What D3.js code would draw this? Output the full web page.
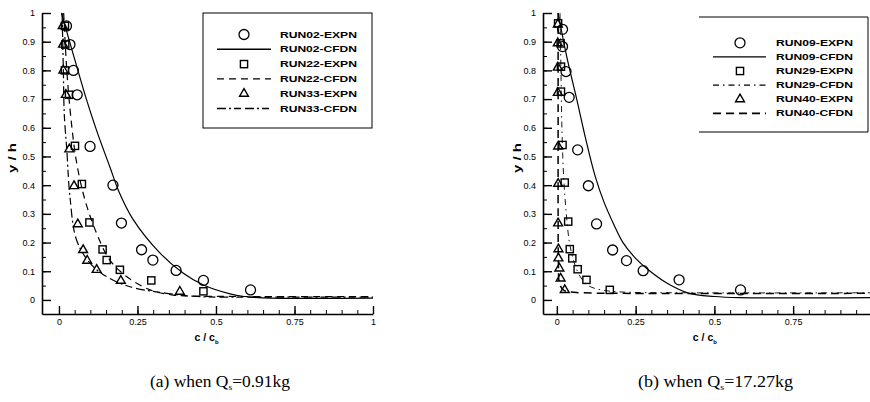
<!DOCTYPE html>
<html>
<head>
<meta charset="utf-8">
<script src="https://cdn.jsdelivr.net/npm/d3@7"></script>
<style>
  body { margin: 0; background: #fff; }
  svg { display: block; }
  .tick text { font-family: "Liberation Sans", Arial, sans-serif; font-size: 9px; fill: #000; }
  .lgd { font-family: "Liberation Sans", Arial, sans-serif; font-size: 8.5px; font-weight: bold; }
</style>
</head>
<body>
<script>
// panel (a) Qs = 0.91kg
var run02ExpX = [0.024, 0.035, 0.046, 0.058, 0.099, 0.172, 0.199, 0.263, 0.299, 0.373, 0.46, 0.61];
var run02ExpY = [0.955, 0.89, 0.80, 0.715, 0.535, 0.40, 0.268, 0.175, 0.139, 0.103, 0.068, 0.035];
var run22ExpX = [0.019, 0.02, 0.019, 0.032, 0.051, 0.073, 0.097, 0.139, 0.152, 0.194, 0.294, 0.46];
var run22ExpY = [0.955, 0.89, 0.80, 0.715, 0.537, 0.404, 0.27, 0.176, 0.139, 0.105, 0.068, 0.03];
var run33ExpX = [0.012, 0.013, 0.014, 0.022, 0.033, 0.048, 0.06, 0.077, 0.09, 0.12, 0.197, 0.385];
var run33ExpY = [0.955, 0.89, 0.80, 0.715, 0.525, 0.397, 0.264, 0.174, 0.137, 0.105, 0.067, 0.029];
var run02CfdX = [0.008, 0.04, 0.088, 0.12, 0.162, 0.19, 0.237, 0.322, 0.396, 0.46, 0.545, 0.59, 0.65, 1.0];
var run02CfdY = [1.0, 0.877, 0.697, 0.59, 0.464, 0.38, 0.279, 0.163, 0.093, 0.052, 0.021, 0.012, 0.007, 0.006];
var run22CfdX = [0.015, 0.025, 0.037, 0.056, 0.083, 0.12, 0.162, 0.216, 0.29, 0.364, 0.45, 0.6, 1.0];
var run22CfdY = [1.0, 0.8, 0.645, 0.48, 0.348, 0.232, 0.139, 0.081, 0.035, 0.017, 0.013, 0.012, 0.012];
var run33CfdX = [0.01, 0.014, 0.017, 0.025, 0.035, 0.056, 0.099, 0.152, 0.226, 0.343, 0.44, 0.6, 1.0];
var run33CfdY = [1.0, 0.8, 0.645, 0.523, 0.36, 0.209, 0.128, 0.081, 0.046, 0.023, 0.012, 0.01, 0.01];

// panel (b) Qs = 17.27kg
var run09ExpX = [0.018, 0.018, 0.029, 0.039, 0.066, 0.1, 0.126, 0.177, 0.221, 0.274, 0.388, 0.583];
var run09ExpY = [0.943, 0.883, 0.796, 0.706, 0.523, 0.398, 0.265, 0.174, 0.137, 0.102, 0.07, 0.035];
var run29ExpX = [0.004, 0.012, 0.013, 0.013, 0.018, 0.025, 0.036, 0.041, 0.049, 0.066, 0.094, 0.168];
var run29ExpY = [0.964, 0.894, 0.813, 0.726, 0.54, 0.409, 0.273, 0.177, 0.145, 0.107, 0.07, 0.035];
var run40ExpX = [0.003, 0.003, 0.003, 0.003, 0.004, 0.004, 0.004, 0.005, 0.005, 0.008, 0.012, 0.025];
var run40ExpY = [0.96, 0.895, 0.81, 0.722, 0.535, 0.405, 0.267, 0.177, 0.145, 0.11, 0.075, 0.035];
var run09CfdX = [0.004, 0.031, 0.063, 0.094, 0.122, 0.15, 0.18, 0.21, 0.25, 0.29, 0.35, 0.42, 0.5, 0.58, 1.0];
var run09CfdY = [1.0, 0.85, 0.70, 0.55, 0.43, 0.34, 0.265, 0.2, 0.145, 0.105, 0.058, 0.023, 0.012, 0.008, 0.008];
var run29CfdX = [0.01, 0.013, 0.016, 0.022, 0.03, 0.04, 0.055, 0.075, 0.1, 0.14, 0.2, 0.4, 1.0];
var run29CfdY = [1.0, 0.8, 0.6, 0.42, 0.3, 0.2, 0.13, 0.08, 0.05, 0.035, 0.028, 0.025, 0.025];
var run40CfdX = [0.004, 0.004, 0.004, 0.005, 0.008, 0.02, 0.04, 0.08, 0.2, 1.0];
var run40CfdY = [1.0, 0.6, 0.3, 0.12, 0.06, 0.035, 0.028, 0.025, 0.023, 0.023];

var yTicks = [0, 0.1, 0.2, 0.3, 0.4, 0.5, 0.6, 0.7, 0.8, 0.9, 1];
var yTickLabels = ["0", "0.1", "0.2", "0.3", "0.4", "0.5", "0.6", "0.7", "0.8", "0.9", "1"];
var xTicks = [0, 0.25, 0.5, 0.75, 1];
var xTickLabels = ["0", "0.25", "0.5", "0.75", "1"];

function zip(xs, ys) {
  return xs.map(function(d, i) { return {x: d, y: ys[i]}; });
}

var svg = d3.select("body").append("svg")
  .attr("width", 870).attr("height", 402);

var panels = [
  {
    left: 42, right: 373, xMin: -0.054, xMax: 1, id: "a",
    caption: ["(a) when Q", "s", "=0.91kg"], capX: 150, capW: 140,
    yLabelX: 12,
    legend: {x0: 203, x1: 372, y0: 13, y1: 128, symX: 244, lineX0: 217, lineX1: 271, textX: 280, rowY: 34.5, step: 14.8, full: true},
    series: [
      {name: "RUN02-EXPN", type: "circle", pts: zip(run02ExpX, run02ExpY)},
      {name: "RUN02-CFDN", type: "line", dash: null, w: 1.2, pts: zip(run02CfdX, run02CfdY)},
      {name: "RUN22-EXPN", type: "square", pts: zip(run22ExpX, run22ExpY)},
      {name: "RUN22-CFDN", type: "line", dash: "7,5", w: 1.2, pts: zip(run22CfdX, run22CfdY)},
      {name: "RUN33-EXPN", type: "triangle", pts: zip(run33ExpX, run33ExpY)},
      {name: "RUN33-CFDN", type: "line", dash: "9,3,2,3,7,4", w: 1.2, pts: zip(run33CfdX, run33CfdY)}
    ]
  },
  {
    left: 543, right: 870, xMin: -0.044, xMax: 0.994, id: "b",
    caption: ["(b) when Q", "s", "=17.27kg"], capX: 638, capW: 155,
    yLabelX: 517,
    legend: {x0: 699, x1: 868, y0: 17, y1: 132, symX: 740, lineX0: 713, lineX1: 766, textX: 776, rowY: 42.8, step: 14.1, full: false},
    series: [
      {name: "RUN09-EXPN", type: "circle", pts: zip(run09ExpX, run09ExpY)},
      {name: "RUN09-CFDN", type: "line", dash: null, w: 1.2, pts: zip(run09CfdX, run09CfdY)},
      {name: "RUN29-EXPN", type: "square", pts: zip(run29ExpX, run29ExpY)},
      {name: "RUN29-CFDN", type: "line", dash: "6,4,1.5,4", w: 0.9, pts: zip(run29CfdX, run29CfdY)},
      {name: "RUN40-EXPN", type: "triangle", pts: zip(run40ExpX, run40ExpY)},
      {name: "RUN40-CFDN", type: "line", dash: "8,5", w: 1.5, pts: zip(run40CfdX, run40CfdY)}
    ]
  }
];

var plotTop = 13, plotBottom = 314;

panels.forEach(function(p) {
  var x = d3.scaleLinear().domain([p.xMin, p.xMax]).range([p.left, p.right]);
  var y = d3.scaleLinear().domain([-0.049, 1]).range([plotBottom, plotTop]);

  var g = svg.append("g");

  g.append("clipPath").attr("id", "clip" + p.id)
    .append("rect").attr("x", p.left).attr("y", plotTop - 2)
    .attr("width", p.right - p.left).attr("height", plotBottom - plotTop + 2);

  // minor ticks every 0.05
  var yMinor = d3.range(0, 1.001, 0.05).map(function(d) { return +d.toFixed(2); });
  var xMinor = d3.range(0, p.xMax + 0.001, 0.05).map(function(d) { return +d.toFixed(2); });

  g.append("g").attr("transform", "translate(" + p.left + ",0)")
    .call(d3.axisLeft(y).tickValues(yMinor).tickSize(-4).tickSizeOuter(0).tickFormat(""))
    .call(function(s) { s.select(".domain").remove(); s.selectAll("line").attr("stroke-width", 1); });
  g.append("g").attr("transform", "translate(0," + plotBottom + ")")
    .call(d3.axisBottom(x).tickValues(xMinor).tickSize(-4).tickSizeOuter(0).tickFormat(""))
    .call(function(s) { s.select(".domain").remove(); s.selectAll("line").attr("stroke-width", 1); });

  var yAxis = d3.axisLeft(y).tickValues(yTicks).tickSize(-9).tickSizeOuter(0).tickPadding(7)
    .tickFormat(function(d, i) { return yTickLabels[i]; });
  var xVals = xTicks.filter(function(d) { return d <= p.xMax; });
  var xAxis = d3.axisBottom(x).tickValues(xVals).tickSize(-8).tickSizeOuter(0).tickPadding(5)
    .tickFormat(function(d) { return xTickLabels[xTicks.indexOf(d)]; });

  g.append("g").attr("transform", "translate(" + p.left + ",0)").call(yAxis)
    .call(function(s) { s.select(".domain").attr("stroke-width", 1.6); s.selectAll("line").attr("stroke-width", 1.4); });
  g.append("g").attr("transform", "translate(0," + plotBottom + ")").call(xAxis)
    .call(function(s) { s.select(".domain").attr("stroke-width", 1.6); s.selectAll("line").attr("stroke-width", 1.4); });

  // axis titles
  g.append("text")
    .attr("transform", "translate(" + (p.yLabelX + 4) + ",158) rotate(-90)")
    .attr("text-anchor", "middle")
    .attr("textLength", 30).attr("lengthAdjust", "spacingAndGlyphs")
    .style("font-family", "Liberation Sans, Arial, sans-serif")
    .style("font-size", "11px").style("font-weight", "bold")
    .text("y / h");

  var xt = g.append("text")
    .attr("x", x(0.47)).attr("y", 341)
    .attr("text-anchor", "middle")
    .style("font-family", "Liberation Sans, Arial, sans-serif")
    .style("font-size", "10.5px").style("font-weight", "bold");
  xt.append("tspan").text("c / c");
  xt.append("tspan").attr("dy", 3).style("font-size", "6px").text("b");

  // curves
  var line = d3.line()
    .x(function(d) { return x(d.x); })
    .y(function(d) { return y(d.y); })
    .curve(d3.curveCatmullRom.alpha(0.5));

  var plot = g.append("g").attr("clip-path", "url(#clip" + p.id + ")");

  p.series.forEach(function(s) {
    if (s.type == "line") {
      plot.append("path").datum(s.pts)
        .attr("d", line)
        .attr("fill", "none").attr("stroke", "#000")
        .attr("stroke-width", s.w)
        .attr("stroke-dasharray", s.dash);
    }
  });

  function drawSymbol(sel, type, cx, cy) {
    if (type == "circle") {
      sel.append("circle").attr("cx", cx).attr("cy", cy).attr("r", 5)
        .attr("fill", "none").attr("stroke", "#000").attr("stroke-width", 1.3);
    } else if (type == "square") {
      sel.append("rect").attr("x", cx - 3.6).attr("y", cy - 3.6)
        .attr("width", 7.2).attr("height", 7.2)
        .attr("fill", "none").attr("stroke", "#000").attr("stroke-width", 1.4);
    } else {
      sel.append("path")
        .attr("transform", "translate(" + cx + "," + cy + ")")
        .attr("d", d3.symbol().type(d3.symbolTriangle).size(34)())
        .attr("fill", "none").attr("stroke", "#000").attr("stroke-width", 1.4);
    }
  }

  p.series.forEach(function(s) {
    if (s.type != "line") {
      s.pts.forEach(function(d) { drawSymbol(plot, s.type, x(d.x), y(d.y)); });
    }
  });

  // legend
  var L = p.legend;
  var lg = g.append("g");
  if (L.full) {
    lg.append("rect").attr("x", L.x0).attr("y", L.y0)
      .attr("width", L.x1 - L.x0).attr("height", L.y1 - L.y0)
      .attr("fill", "#fff").attr("stroke", "#000").attr("stroke-width", 1);
  } else {
    lg.append("path")
      .attr("d", "M" + L.x0 + "," + L.y0 + "H" + L.x1 + "V" + L.y1 + "H" + L.x0)
      .attr("fill", "#fff").attr("stroke", "#000").attr("stroke-width", 1);
  }
  p.series.forEach(function(s, i) {
    var ry = L.rowY + i * L.step;
    if (s.type == "line") {
      lg.append("line").attr("x1", L.lineX0).attr("x2", L.lineX1)
        .attr("y1", ry).attr("y2", ry)
        .attr("stroke", "#000").attr("stroke-width", s.w + 0.2)
        .attr("stroke-dasharray", s.dash);
    } else {
      drawSymbol(lg, s.type, L.symX, ry);
    }
    lg.append("text").attr("class", "lgd")
      .attr("x", L.textX).attr("y", ry + 3)
      .attr("textLength", 77).attr("lengthAdjust", "spacingAndGlyphs")
      .text(s.name);
  });

  // caption
  var cap = g.append("text")
    .attr("x", p.capX).attr("y", 387)
    .attr("textLength", p.capW).attr("lengthAdjust", "spacingAndGlyphs")
    .style("font-family", "Liberation Serif, Times New Roman, serif")
    .style("font-size", "16px");
  cap.append("tspan").text(p.caption[0]);
  cap.append("tspan").attr("dy", 3).style("font-size", "9px").text(p.caption[1]);
  cap.append("tspan").attr("dy", -3).text(p.caption[2]);
});
</script>
</body>
</html>
